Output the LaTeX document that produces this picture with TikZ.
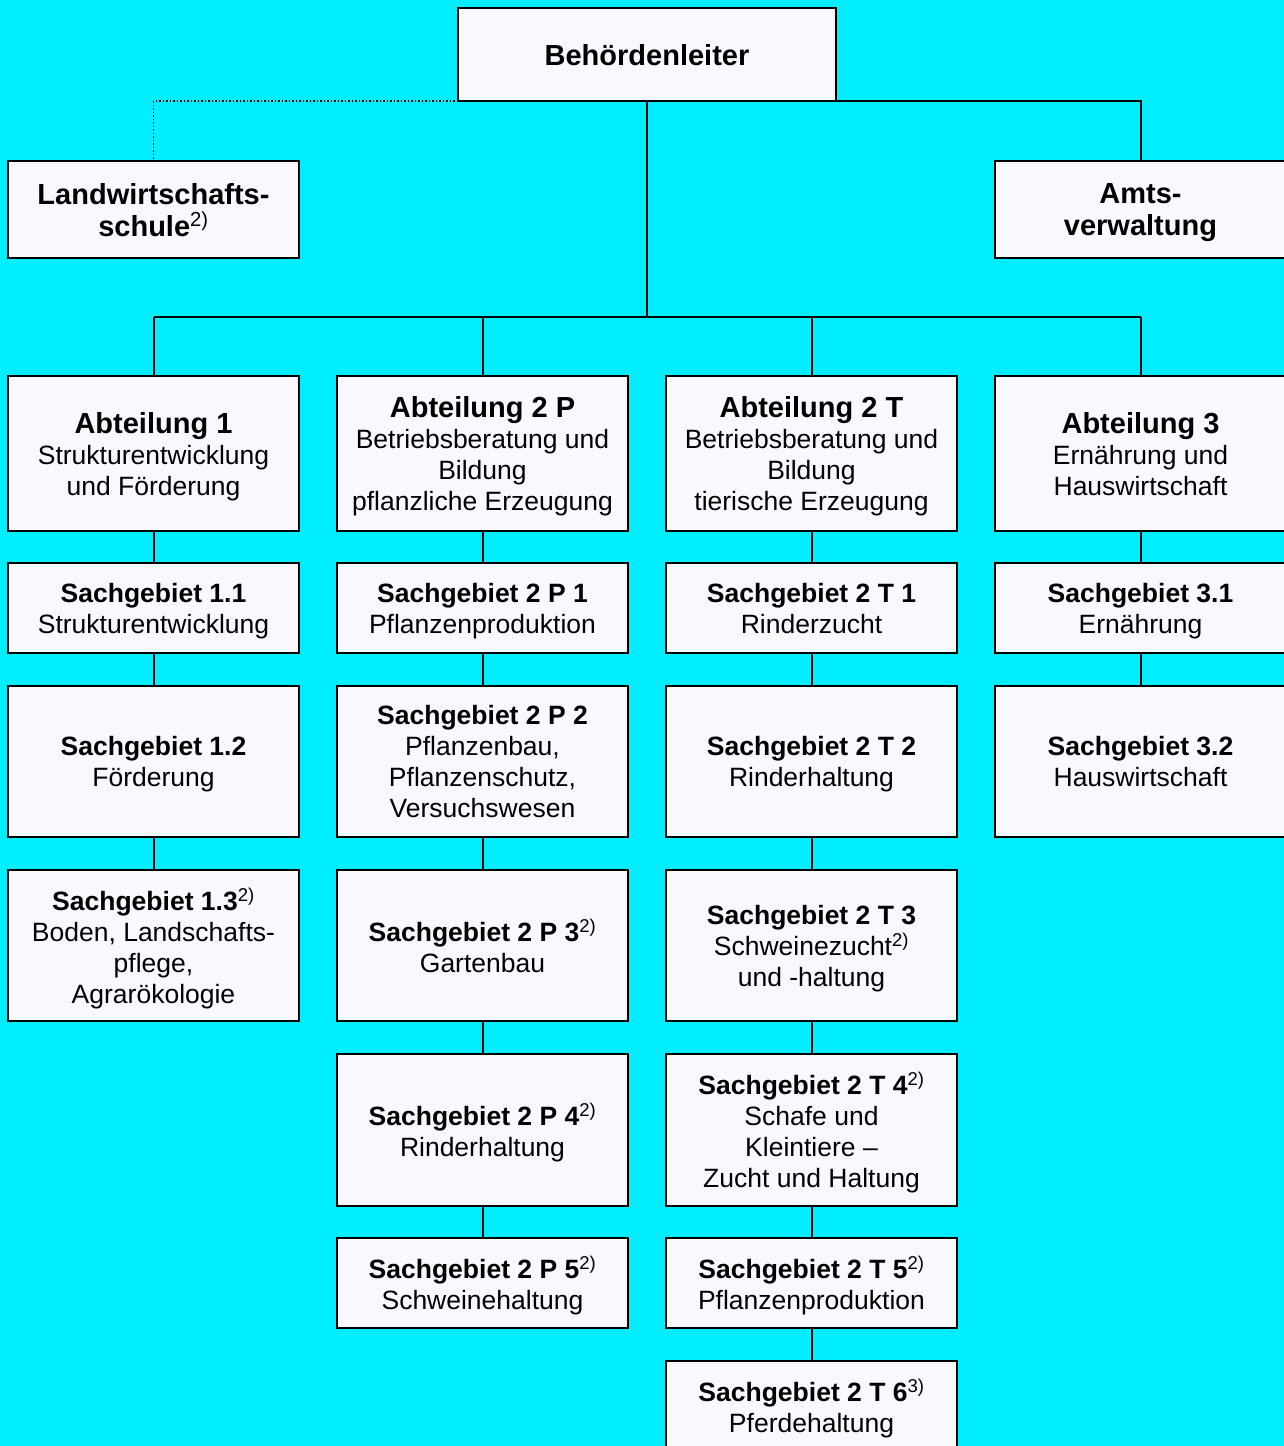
\documentclass[tikz,border=0pt]{standalone}
\usepackage{fontspec}
\setmainfont{Liberation Sans}
\definecolor{bgcyan}{RGB}{0,238,255}
\definecolor{boxfill}{RGB}{248,249,255}
\newcommand{\fnref}[1]{{\mdseries\textsuperscript{#1}}}
\begin{document}
\begin{tikzpicture}[x=1pt,y=-1pt,
  orgbox/.style={draw=black,line width=2pt,fill=boxfill,rectangle,inner sep=0pt,outer sep=0pt,
    align=center,minimum width=291pt,text depth=-1.5pt,font=\fontsize{26.5}{31}\selectfont},
  conn/.style={line width=2pt,black},
  big/.style={font=\fontsize{29}{32}\selectfont\bfseries}]
\fill[bgcyan] (0,0) rectangle (1284,1446);
\useasboundingbox (0,0) rectangle (1284,1446);
\clip (0,0) rectangle (1284,1446);
% top level
\node[orgbox,big,minimum width=378pt,minimum height=93pt] (chef) at (647,54.5) {Behördenleiter};
\node[orgbox,big,minimum height=97pt] (lws) at (153.5,209.5) {Landwirtschafts-\\schule\fnref{2)}};
\node[orgbox,big,minimum height=97pt] (amt) at (1140.5,209.5) {Amts-\\verwaltung};
% Abteilungen
\node[orgbox,minimum height=155pt] (a1) at (153.5,453.5) {{\fontsize{29}{33}\selectfont\bfseries Abteilung 1}\\Strukturentwicklung\\und Förderung};
\node[orgbox,minimum height=155pt] (a2p) at (482.5,453.5) {{\fontsize{29}{33}\selectfont\bfseries Abteilung 2 P}\\Betriebsberatung und\\Bildung\\pflanzliche Erzeugung};
\node[orgbox,minimum height=155pt] (a2t) at (811.5,453.5) {{\fontsize{29}{33}\selectfont\bfseries Abteilung 2 T}\\Betriebsberatung und\\Bildung\\tierische Erzeugung};
\node[orgbox,minimum height=155pt] (a3) at (1140.5,453.5) {{\fontsize{29}{33}\selectfont\bfseries Abteilung 3}\\Ernährung und\\Hauswirtschaft};
% row 1
\node[orgbox,minimum height=90pt] (s11) at (153.5,608) {\textbf{Sachgebiet 1.1}\\Strukturentwicklung};
\node[orgbox,minimum height=90pt] (sp1) at (482.5,608) {\textbf{Sachgebiet 2 P 1}\\Pflanzenproduktion};
\node[orgbox,minimum height=90pt] (st1) at (811.5,608) {\textbf{Sachgebiet 2 T 1}\\Rinderzucht};
\node[orgbox,minimum height=90pt] (s31) at (1140.5,608) {\textbf{Sachgebiet 3.1}\\Ernährung};
% row 2
\node[orgbox,minimum height=151pt] (s12) at (153.5,761.5) {\textbf{Sachgebiet 1.2}\\Förderung};
\node[orgbox,minimum height=151pt] (sp2) at (482.5,761.5) {\textbf{Sachgebiet 2 P 2}\\Pflanzenbau,\\Pflanzenschutz,\\Versuchswesen};
\node[orgbox,minimum height=151pt] (st2) at (811.5,761.5) {\textbf{Sachgebiet 2 T 2}\\Rinderhaltung};
\node[orgbox,minimum height=151pt] (s32) at (1140.5,761.5) {\textbf{Sachgebiet 3.2}\\Hauswirtschaft};
% row 3
\node[orgbox,minimum height=151pt] (s13) at (153.5,945.5) {\textbf{Sachgebiet 1.3}\fnref{2)}\\Boden, Landschafts-\\pflege,\\Agrarökologie};
\node[orgbox,minimum height=151pt] (sp3) at (482.5,945.5) {\textbf{Sachgebiet 2 P 3}\fnref{2)}\\Gartenbau};
\node[orgbox,minimum height=151pt] (st3) at (811.5,945.5) {\textbf{Sachgebiet 2 T 3}\\Schweinezucht\fnref{2)}\\und -haltung};
% row 4
\node[orgbox,minimum height=152pt] (sp4) at (482.5,1130) {\textbf{Sachgebiet 2 P 4}\fnref{2)}\\Rinderhaltung};
\node[orgbox,minimum height=152pt] (st4) at (811.5,1130) {\textbf{Sachgebiet 2 T 4}\fnref{2)}\\Schafe und\\Kleintiere –\\Zucht und Haltung};
% row 5
\node[orgbox,minimum height=90pt] (sp5) at (482.5,1283) {\textbf{Sachgebiet 2 P 5}\fnref{2)}\\Schweinehaltung};
\node[orgbox,minimum height=90pt] (st5) at (811.5,1283) {\textbf{Sachgebiet 2 T 5}\fnref{2)}\\Pflanzenproduktion};
% row 6
\node[orgbox,minimum height=90pt] (st6) at (811.5,1406) {\textbf{Sachgebiet 2 T 6}\fnref{3)}\\Pferdehaltung};
% connectors
\coordinate (bus) at (647,317);
\draw[conn] (chef.south) -- (bus);
\draw[conn] (a1.north |- bus) -- (a3.north |- bus);
\foreach \n in {a1,a2p,a2t,a3} \draw[conn] (\n.north |- bus) -- (\n.north);
\draw[conn] (chef.south east) -| (amt.north);
\draw[line width=1.5pt,dotted] (chef.south west) -| (lws.north);
\draw[conn] (a1) -- (s11) (s11) -- (s12) (s12) -- (s13);
\draw[conn] (a2p) -- (sp1) (sp1) -- (sp2) (sp2) -- (sp3) (sp3) -- (sp4) (sp4) -- (sp5);
\draw[conn] (a2t) -- (st1) (st1) -- (st2) (st2) -- (st3) (st3) -- (st4) (st4) -- (st5) (st5) -- (st6);
\draw[conn] (a3) -- (s31) (s31) -- (s32);
\end{tikzpicture}
\end{document}
